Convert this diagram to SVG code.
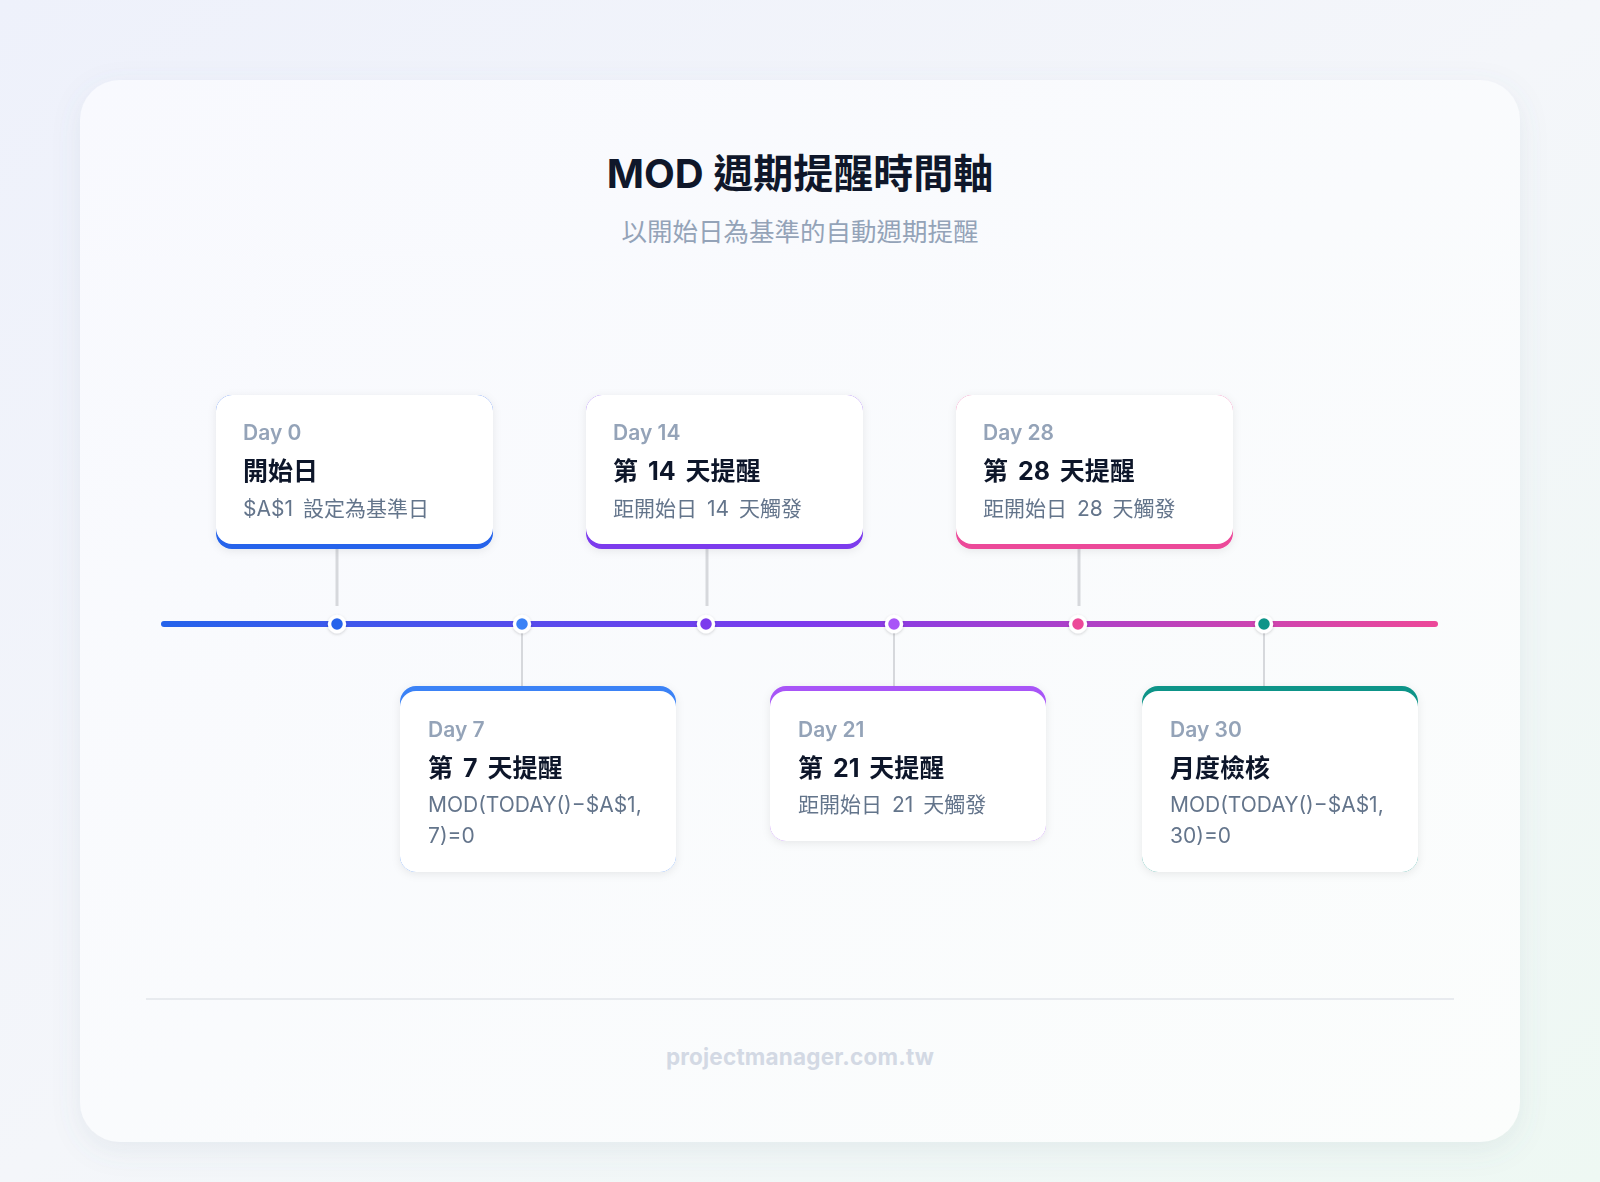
<svg xmlns="http://www.w3.org/2000/svg" width="1600" height="1182" viewBox="0 0 1600 1182">
  <defs>
    <linearGradient id="bg" x1="0" y1="0" x2="1" y2="1">
      <stop offset="0" stop-color="#eef1fb"/>
      <stop offset="0.5" stop-color="#f4f6fa"/>
      <stop offset="1" stop-color="#eef8f3"/>
    </linearGradient>
    <linearGradient id="panel" x1="0" y1="0" x2="1" y2="1">
      <stop offset="0" stop-color="#f8f9fe"/>
      <stop offset="1" stop-color="#fbfdfc"/>
    </linearGradient>
    <linearGradient id="line" x1="164" y1="0" x2="1435" y2="0" gradientUnits="userSpaceOnUse">
      <stop offset="0" stop-color="#2563eb"/>
      <stop offset="0.5" stop-color="#7c3aed"/>
      <stop offset="1" stop-color="#ec4899"/>
    </linearGradient>
    <filter id="panelShadow" x="-10%" y="-10%" width="120%" height="120%">
      <feDropShadow dx="0" dy="8" stdDeviation="14" flood-color="#64748b" flood-opacity="0.10"/>
    </filter>
    <filter id="cardShadow" x="-10%" y="-10%" width="120%" height="130%">
      <feDropShadow dx="0" dy="2" stdDeviation="4" flood-color="#0f172a" flood-opacity="0.08"/>
    </filter>
    <filter id="dotShadow" x="-50%" y="-50%" width="200%" height="200%">
      <feDropShadow dx="0" dy="1" stdDeviation="1.5" flood-color="#0f172a" flood-opacity="0.18"/>
    </filter>
  </defs>
  <style>
    text { font-family: "Inter", "Noto Sans CJK TC", "Noto Sans", sans-serif; }
    .title { font-size: 40px; font-weight: 700; fill: #0f172a; }
    .subtitle { font-size: 25.5px; font-weight: 400; fill: #94a3b8; }
    .day { font-size: 21px; font-weight: 600; fill: #94a3b8; }
    .head { font-size: 25px; font-weight: 700; fill: #0f172a; word-spacing: 4px; }
    .desc { font-size: 21px; font-weight: 400; fill: #64748b; word-spacing: 4px; }
    .formula { font-size: 21px; font-weight: 400; fill: #64748b; }
    .footer { font-size: 22.5px; font-weight: 700; fill: #d3d9e4; letter-spacing: 0.2px; }
    .card { fill: #ffffff; }
    .conTop { stroke: #d6d8dc; stroke-width: 3; fill: none; }
    .conBot { stroke: #d6d8dc; stroke-width: 2; fill: none; }
    .dot { stroke: #ffffff; stroke-width: 3.5; }
  </style>

  <rect x="0" y="0" width="1600" height="1182" fill="url(#bg)"/>
  <rect x="80" y="80" width="1440" height="1062" rx="40" fill="url(#panel)" filter="url(#panelShadow)"/>

  <text class="title" x="800" y="188" text-anchor="middle">MOD 週期提醒時間軸</text>
  <text class="subtitle" x="800" y="241" text-anchor="middle">以開始日為基準的自動週期提醒</text>

  <g id="connectors">
    <line class="conTop" x1="337" y1="549" x2="337" y2="606"/>
    <line class="conTop" x1="707" y1="549" x2="707" y2="606"/>
    <line class="conTop" x1="1079" y1="549" x2="1079" y2="606"/>
    <line class="conBot" x1="522" y1="630" x2="522" y2="687"/>
    <line class="conBot" x1="894" y1="630" x2="894" y2="687"/>
    <line class="conBot" x1="1264" y1="630" x2="1264" y2="687"/>
    <line x1="164" y1="624" x2="1435" y2="624" stroke="url(#line)" stroke-width="6" stroke-linecap="round"/>
  </g>

  <g id="dots" filter="url(#dotShadow)">
    <circle class="dot" cx="337" cy="624" r="7.5" fill="#2563eb"/>
    <circle class="dot" cx="522" cy="624" r="7.5" fill="#3b82f6"/>
    <circle class="dot" cx="706" cy="624" r="7.5" fill="#7c3aed"/>
    <circle class="dot" cx="894" cy="624" r="7.5" fill="#a855f7"/>
    <circle class="dot" cx="1078" cy="624" r="7.5" fill="#ec4899"/>
    <circle class="dot" cx="1264" cy="624" r="7.5" fill="#0d9488"/>
  </g>

  <g id="node-day0" filter="url(#cardShadow)">
    <rect x="216" y="395" width="277" height="154" rx="16" fill="#2563eb"/>
    <rect class="card" x="216" y="395" width="277" height="149" rx="16"/>
    <text class="day" x="243" y="440">Day 0</text>
    <text class="head" x="243" y="480">開始日</text>
    <text class="desc" x="243" y="516">$A$1 設定為基準日</text>
  </g>

  <g id="node-day14" filter="url(#cardShadow)">
    <rect x="586" y="395" width="277" height="154" rx="16" fill="#7c3aed"/>
    <rect class="card" x="586" y="395" width="277" height="149" rx="16"/>
    <text class="day" x="613" y="440">Day 14</text>
    <text class="head" x="613" y="480">第 14 天提醒</text>
    <text class="desc" x="613" y="516">距開始日 14 天觸發</text>
  </g>

  <g id="node-day28" filter="url(#cardShadow)">
    <rect x="956" y="395" width="277" height="154" rx="16" fill="#ec4899"/>
    <rect class="card" x="956" y="395" width="277" height="149" rx="16"/>
    <text class="day" x="983" y="440">Day 28</text>
    <text class="head" x="983" y="480">第 28 天提醒</text>
    <text class="desc" x="983" y="516">距開始日 28 天觸發</text>
  </g>

  <g id="node-day7" filter="url(#cardShadow)">
    <rect x="400" y="686" width="276" height="186" rx="16" fill="#3b82f6"/>
    <rect class="card" x="400" y="691" width="276" height="181" rx="16"/>
    <text class="day" x="428" y="737">Day 7</text>
    <text class="head" x="428" y="777">第 7 天提醒</text>
    <text class="formula" x="428" y="812">MOD(TODAY()−$A$1,</text>
    <text class="formula" x="428" y="843">7)=0</text>
  </g>

  <g id="node-day21" filter="url(#cardShadow)">
    <rect x="770" y="686" width="276" height="155" rx="16" fill="#a855f7"/>
    <rect class="card" x="770" y="691" width="276" height="150" rx="16"/>
    <text class="day" x="798" y="737">Day 21</text>
    <text class="head" x="798" y="777">第 21 天提醒</text>
    <text class="desc" x="798" y="812">距開始日 21 天觸發</text>
  </g>

  <g id="node-day30" filter="url(#cardShadow)">
    <rect x="1142" y="686" width="276" height="186" rx="16" fill="#0d9488"/>
    <rect class="card" x="1142" y="691" width="276" height="181" rx="16"/>
    <text class="day" x="1170" y="737">Day 30</text>
    <text class="head" x="1170" y="777">月度檢核</text>
    <text class="formula" x="1170" y="812">MOD(TODAY()−$A$1,</text>
    <text class="formula" x="1170" y="843">30)=0</text>
  </g>

  <line x1="146" y1="999" x2="1454" y2="999" stroke="#e8ebef" stroke-width="2"/>
  <text class="footer" x="800" y="1065" text-anchor="middle">projectmanager.com.tw</text>
</svg>
